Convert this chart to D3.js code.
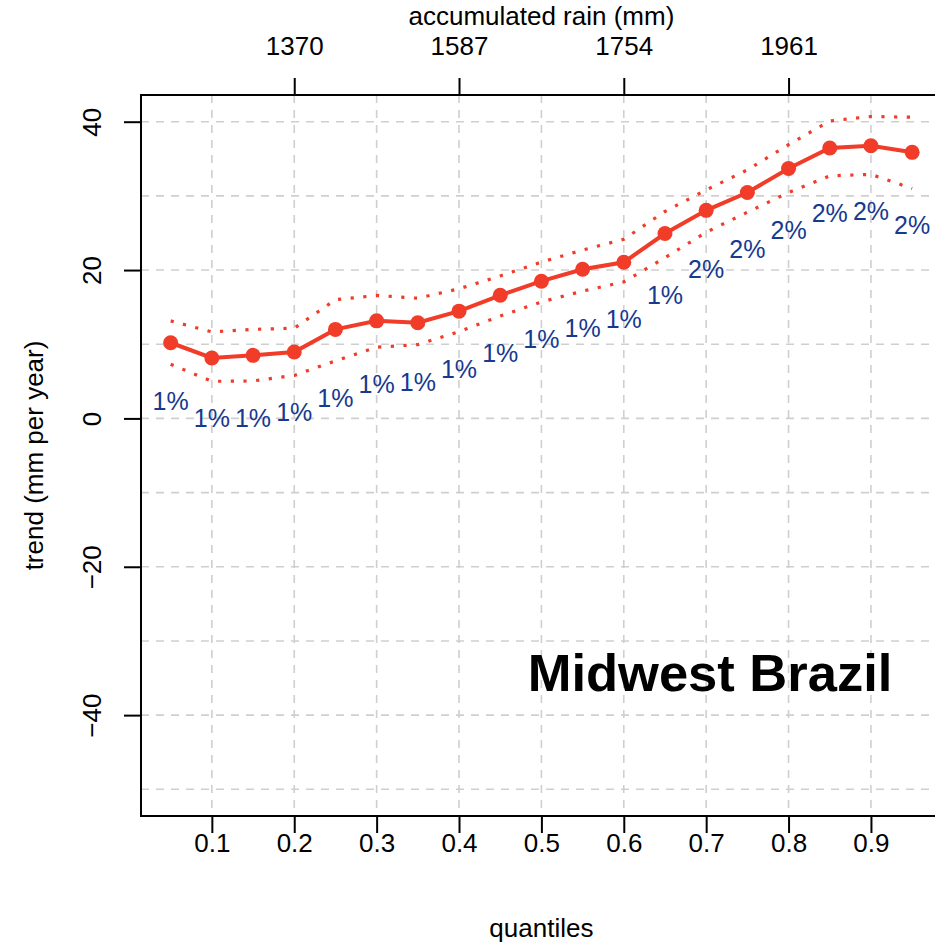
<!DOCTYPE html>
<html>
<head>
<meta charset="utf-8">
<script src="https://cdn.jsdelivr.net/npm/d3@7"></script>
<style>
  html, body { margin: 0; padding: 0; background: #fff; }
  svg { display: block; }
  text { font-family: "Liberation Sans", Arial, Helvetica, sans-serif; }
</style>
</head>
<body>
<svg id="chart" width="935" height="944"></svg>
<script>
// ---- data ----
const quantiles = [0.05, 0.10, 0.15, 0.20, 0.25, 0.30, 0.35, 0.40, 0.45, 0.50,
                   0.55, 0.60, 0.65, 0.70, 0.75, 0.80, 0.85, 0.90, 0.95];
const trend = [10.2, 8.15, 8.5, 8.95, 12.0, 13.15, 12.9, 14.46, 16.6, 18.5,
               20.1, 21.05, 24.93, 28.05, 30.45, 33.7, 36.45, 36.76, 35.87];
const upperCI = [13.15, 11.66, 12.0, 12.16, 16.0, 16.58, 16.2, 17.48, 19.2, 21.08,
                 22.7, 24.15, 27.9, 30.8, 33.5, 36.9, 40.1, 40.7, 40.6];
const lowerCI = [7.3, 5.0, 5.05, 5.8, 7.75, 9.6, 9.95, 11.7, 13.8, 15.7,
                 17.16, 18.4, 21.66, 25.1, 27.8, 30.45, 32.7, 32.9, 31.0];
const pctLabels = ["1%","1%","1%","1%","1%","1%","1%","1%","1%","1%",
                   "1%","1%","1%","2%","2%","2%","2%","2%","2%"];
const xTicks = [0.1, 0.2, 0.3, 0.4, 0.5, 0.6, 0.7, 0.8, 0.9];
const yTicks = [-40, -20, 0, 20, 40];
const yGrid = [-50, -40, -30, -20, -10, 0, 10, 20, 30, 40];
const topTickPos = [0.2, 0.4, 0.6, 0.8];
const topTickLabels = ["1370", "1587", "1754", "1961"];
const regionTitle = "Midwest Brazil";

// ---- layout ----
const W = 935, H = 944;
const plot = { left: 141, right: 941.8, top: 95, bottom: 816 };
const red = "#F03C28";
const blue = "#17398F";

const svg = d3.select("#chart");
const x = d3.scaleLinear().domain([0.014, 0.986]).range([plot.left, plot.right]);
const y = d3.scaleLinear().domain([-53.6, 43.6]).range([plot.bottom, plot.top]);

// grid
const grid = svg.append("g")
  .attr("stroke", "#cfcfcf").attr("stroke-width", 1.6).attr("stroke-dasharray", "8 7");
grid.selectAll("line.h").data(yGrid).join("line")
  .attr("x1", plot.left).attr("x2", plot.right)
  .attr("y1", d => y(d)).attr("y2", d => y(d));
grid.selectAll("line.v").data(xTicks).join("line")
  .attr("y1", plot.top).attr("y2", plot.bottom)
  .attr("x1", d => x(d)).attr("x2", d => x(d));

// axes
const fs = 26;
const bottomAxis = d3.axisBottom(x).tickValues(xTicks).tickSize(17).tickSizeOuter(0)
  .tickFormat(d3.format(".1f"));
const gB = svg.append("g").attr("transform", `translate(0,${plot.bottom})`).call(bottomAxis);
const leftAxis = d3.axisLeft(y).tickValues(yTicks).tickSize(17).tickSizeOuter(0)
  .tickFormat(d => d < 0 ? "\u2212" + Math.abs(d) : d);
const gL = svg.append("g").attr("transform", `translate(${plot.left},0)`).call(leftAxis);
const topAxis = d3.axisTop(x).tickValues(topTickPos).tickSize(17).tickSizeOuter(0)
  .tickFormat((d, i) => topTickLabels[i]);
const gT = svg.append("g").attr("transform", `translate(0,${plot.top})`).call(topAxis);

[gB, gL, gT].forEach(g => {
  g.select(".domain").remove();
  g.selectAll(".tick line").attr("stroke", "#000").attr("stroke-width", 2);
  g.selectAll(".tick text").attr("font-size", fs).attr("fill", "#000")
    .style("font-family", "'Liberation Sans', Arial, sans-serif");
});
gB.selectAll(".tick text").attr("dy", null).attr("y", 852 - plot.bottom);
gT.selectAll(".tick text").attr("dy", null).attr("y", 55 - plot.top);
gL.selectAll(".tick text")
  .attr("x", null).attr("dy", null).attr("y", null)
  .attr("text-anchor", "middle")
  .attr("transform", `translate(${101 - plot.left},0) rotate(-90)`);

// box
svg.append("rect")
  .attr("x", plot.left).attr("y", plot.top)
  .attr("width", plot.right - plot.left).attr("height", plot.bottom - plot.top)
  .attr("fill", "none").attr("stroke", "#000").attr("stroke-width", 2);

// axis titles
svg.append("text").attr("x", x(0.5)).attr("y", 937).attr("text-anchor", "middle")
  .attr("font-size", fs).text("quantiles");
svg.append("text").attr("x", x(0.5)).attr("y", 25).attr("text-anchor", "middle")
  .attr("font-size", fs).text("accumulated rain (mm)");
svg.append("text").attr("transform", `translate(43,${(plot.top + plot.bottom) / 2}) rotate(-90)`)
  .attr("text-anchor", "middle").attr("font-size", fs).text("trend (mm per year)");

// clip for data
svg.append("clipPath").attr("id", "clip").append("rect")
  .attr("x", plot.left).attr("y", plot.top)
  .attr("width", plot.right - plot.left).attr("height", plot.bottom - plot.top);
const dg = svg.append("g").attr("clip-path", "url(#clip)");

const idx = d3.range(quantiles.length);
const lineOf = arr => d3.line().x(i => x(quantiles[i])).y(i => y(arr[i]))(idx);

[upperCI, lowerCI].forEach(arr => {
  dg.append("path").attr("d", lineOf(arr)).attr("fill", "none")
    .attr("stroke", red).attr("stroke-width", 3.2)
    .attr("stroke-dasharray", "3.2 9.5");
});
dg.append("path").attr("d", lineOf(trend)).attr("fill", "none")
  .attr("stroke", red).attr("stroke-width", 4);
dg.selectAll("circle").data(idx).join("circle")
  .attr("cx", i => x(quantiles[i])).attr("cy", i => y(trend[i]))
  .attr("r", 7.5).attr("fill", red);

// percentage labels
svg.append("g").selectAll("text").data(idx).join("text")
  .attr("x", i => x(quantiles[i]))
  .attr("y", i => y(lowerCI[i]) + 46)
  .attr("text-anchor", "middle").attr("font-size", 25).attr("fill", blue)
  .text(i => pctLabels[i]);

// region title
svg.append("text").attr("x", 710).attr("y", 691).attr("text-anchor", "middle")
  .attr("font-size", 52.5).attr("font-weight", "bold").attr("fill", "#000")
  .text(regionTitle);
</script>
</body>
</html>
